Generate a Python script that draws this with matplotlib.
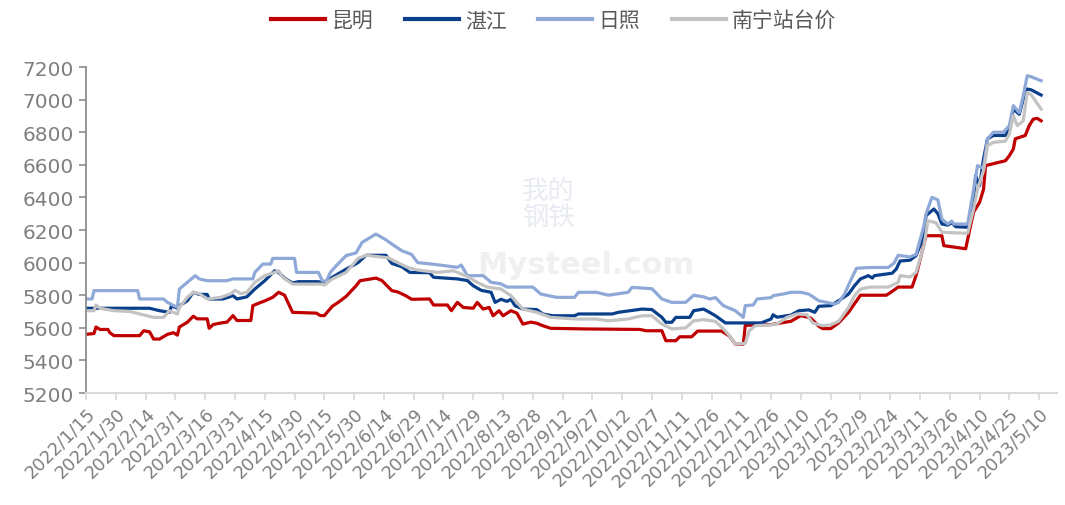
import matplotlib
matplotlib.use("Agg")
import matplotlib.pyplot as plt
import pandas as pd

plt.rcParams['font.family'] = ['Noto Sans CJK SC', 'DejaVu Sans']

START = pd.Timestamp("2022-01-15")

# (days since 2022/1/15, price) breakpoints
kunming = [(0,5560),(4,5565),(5,5605),(7,5590),(11,5590),(12,5570),(14,5552),(27,5552),(29,5582),(32,5575),
           (34,5531),(37,5531),(41,5560),(44,5570),(46,5555),(47,5605),(51,5634),(54,5671),(56,5655),(61,5655),
           (62,5597),(64,5620),(68,5630),(71,5635),(74,5675),(76,5645),(83,5645),(84,5736),(88,5756),(90,5765),
           (94,5787),(97,5818),(100,5800),(104,5695),(116,5690),(118,5675),(120,5675),(124,5732),(127,5756),
           (131,5793),(136,5858),(138,5889),(146,5905),(149,5890),(154,5828),(157,5820),(161,5797),(164,5775),
           (173,5777),(175,5740),(182,5740),(184,5705),(187,5756),(190,5725),(195,5720),(197,5756),(200,5715),
           (203,5725),(205,5674),(208,5705),(210,5674),(214,5705),(217,5690),(220,5623),(224,5635),(227,5628),
           (230,5613),(234,5597),(252,5593),(279,5590),(282,5582),(290,5582),(292,5521),(297,5521),(299,5545),
           (305,5545),(308,5580),(320,5580),(324,5550),(327,5500),(331,5500),(332,5615),(345,5620),(355,5640),
           (360,5675),(365,5660),(369,5610),(371,5595),(375,5595),(379,5630),(384,5695),(388,5765),(390,5800),
           (403,5800),(405,5815),(409,5850),(416,5850),(418,5920),(421,6064),(423,6165),(431,6165),(432,6104),
           (443,6085),(445,6200),(447,6310),(450,6370),(452,6450),(453,6595),(463,6625),(465,6656),(467,6697),
           (468,6760),(473,6780),(475,6840),(477,6880),(479,6885),(481,6870)]

zhanjiang = [(0,5720),(32,5720),(37,5705),(42,5695),(43,5735),(46,5720),(47,5735),(51,5766),(54,5818),
             (57,5805),(61,5805),(62,5777),(69,5777),(74,5797),(76,5777),(81,5790),(85,5838),(90,5889),
             (95,5950),(97,5940),(100,5904),(104,5875),(107,5883),(117,5883),(120,5875),(124,5910),(131,5960),
             (137,6000),(141,6045),(151,6045),(154,5995),(159,5975),(163,5940),(173,5938),(175,5910),(187,5900),
             (192,5890),(195,5858),(199,5830),(204,5818),(206,5756),(209,5775),(212,5762),(214,5775),(216,5736),
             (220,5715),(227,5712),(230,5685),(235,5674),(246,5674),(248,5685),(265,5685),(268,5695),(280,5715),
             (285,5712),(290,5664),(292,5634),(295,5634),(297,5664),(304,5664),(306,5705),(311,5715),(314,5695),
             (317,5674),(322,5630),(340,5630),(345,5654),(346,5680),(348,5665),(355,5678),(359,5705),(364,5710),
             (367,5695),(369,5732),(375,5736),(379,5766),(384,5807),(387,5858),(390,5900),(394,5920),(396,5905),
             (397,5920),(406,5935),(408,5960),(410,6010),(415,6015),(418,6043),(422,6165),(423,6288),(427,6329),
             (429,6300),(431,6237),(434,6230),(436,6245),(438,6220),(444,6217),(447,6390),(448,6533),(450,6472),
             (452,6636),(454,6760),(457,6780),(463,6780),(465,6820),(467,6942),(470,6910),(472,7003),(474,7065),
             (476,7060),(481,7028)]

rizhao = [(0,5777),(3,5777),(4,5828),(26,5828),(27,5777),(39,5777),(41,5756),(46,5725),(47,5838),(51,5879),
          (55,5920),(57,5900),(61,5889),(71,5889),(74,5900),(84,5900),(85,5940),(89,5991),(93,5991),(94,6026),
          (105,6026),(106,5940),(117,5940),(119,5889),(121,5885),(123,5940),(126,5981),(131,6043),(136,6060),
          (139,6124),(146,6175),(151,6140),(154,6114),(159,6073),(164,6050),(167,6000),(175,5990),(187,5971),
          (189,5985),(192,5920),(200,5920),(204,5879),(209,5870),(212,5850),(225,5850),(229,5807),(237,5787),
          (246,5787),(248,5818),(257,5818),(263,5800),(273,5818),(275,5848),(285,5840),(290,5777),(295,5756),
          (302,5756),(306,5800),(311,5790),(314,5777),(317,5785),(321,5736),(327,5705),(331,5664),(332,5736),
          (336,5740),(338,5777),(345,5785),(346,5797),(351,5807),(355,5818),(360,5818),(364,5807),(369,5766),
          (377,5746),(379,5756),(382,5807),(385,5889),(388,5965),(394,5970),(404,5970),(407,5998),(409,6045),
          (415,6035),(418,6050),(422,6227),(423,6298),(426,6400),(429,6385),(431,6267),(434,6237),(436,6255),
          (437,6237),(444,6237),(447,6451),(449,6595),(452,6580),(454,6760),(457,6800),(462,6800),(465,6840),
          (467,6963),(470,6920),(472,7024),(474,7147),(476,7140),(481,7116)]

nanning = [(0,5705),(4,5705),(5,5740),(7,5720),(14,5705),(22,5700),(27,5685),(34,5664),(39,5664),(42,5705),
           (46,5685),(47,5725),(51,5787),(54,5818),(57,5810),(61,5777),(68,5787),(73,5810),(75,5830),(78,5810),
           (81,5818),(85,5879),(90,5920),(95,5940),(97,5950),(99,5910),(104,5868),(119,5868),(120,5862),
           (124,5900),(131,5940),(137,6026),(141,6045),(152,6030),(157,6000),(162,5970),(167,5955),(170,5950),
           (177,5940),(185,5950),(192,5915),(197,5879),(202,5850),(209,5838),(214,5797),(217,5756),(220,5715),
           (227,5695),(234,5664),(247,5654),(257,5654),(263,5643),(273,5654),(280,5674),(285,5674),(290,5623),
           (295,5593),(302,5600),(306,5643),(311,5650),(317,5640),(321,5593),(324,5552),(327,5500),(332,5505),
           (334,5582),(337,5613),(345,5618),(348,5625),(353,5664),(358,5685),(363,5680),(366,5630),(371,5613),
           (375,5618),(379,5640),(384,5725),(387,5797),(390,5838),(395,5850),(404,5850),(409,5879),(410,5920),
           (415,5912),(418,5940),(422,6104),(424,6257),(428,6245),(431,6186),(444,6180),(447,6329),(449,6451),
           (452,6564),(454,6718),(457,6738),(463,6745),(465,6789),(467,6901),(469,6840),(472,6870),(474,7044),
           (476,7030),(481,6942)]

series_names = ["昆明", "湛江", "日照", "南宁站台价"]
series_data = [kunming, zhanjiang, rizhao, nanning]
colors = ["#C00000", "#0A3F8C", "#8EA9D8", "#C3C3C3"]

y_ticks = list(range(5200, 7201, 200))
tick_step_days = 15
n_ticks = 33

fig = plt.figure(figsize=(10.65, 5.06), dpi=100)
ax = fig.add_axes([0.0808, 0.2213, 0.9117, 0.6443])

for name, data, c in zip(series_names, series_data, colors):
    d = [START + pd.Timedelta(days=k) for k, _ in data]
    v = [p for _, p in data]
    ax.plot(d, v, color=c, lw=2.3, label=name, solid_joinstyle='round')

tick_dates = [START + pd.Timedelta(days=tick_step_days * i) for i in range(n_ticks)]
ax.set_xticks(tick_dates)
ax.set_xticklabels([f"{t.year}/{t.month}/{t.day}" for t in tick_dates], rotation=45,
                   ha='right', va='top', rotation_mode='anchor', fontsize=12.8, color='#7F7F7F',
                   family=['DejaVu Sans'])
ax.set_xlim(START, START + pd.Timedelta(days=489))
ax.set_ylim(5200, 7200)
ax.set_yticks(y_ticks)
ax.set_yticklabels([str(v) for v in y_ticks], fontsize=14.5, color='#7F7F7F', family=['DejaVu Sans'])

for s in ['top', 'right']:
    ax.spines[s].set_visible(False)
ax.spines['left'].set_color('#8C8C8C')
ax.spines['left'].set_linewidth(1.3)
ax.spines['bottom'].set_color('#D9D9D9')
ax.spines['bottom'].set_linewidth(1.5)
ax.tick_params(axis='y', direction='out', length=5, width=1.2, color='#8C8C8C', pad=4)
ax.tick_params(axis='x', direction='out', length=5, width=1.2, color='#D9D9D9', pad=3)

# faint watermark
fig.text(0.515, 0.595, "我的\n钢铁", fontsize=19, color='#E8EBF2', ha='center', va='center',
         linespacing=1.0, zorder=0)
fig.text(0.55, 0.475, "Mysteel.com", fontsize=22, color='#F0F0F0', ha='center', va='center',
         fontweight='bold', family=['DejaVu Sans'], zorder=0)

leg = fig.legend(loc='center', bbox_to_anchor=(0.52, 0.958), ncol=4, frameon=False,
                 fontsize=15, handlelength=2.6, columnspacing=1.5, handletextpad=0.3)
for t in leg.get_texts():
    t.set_color('#595959')
for l in leg.get_lines():
    l.set_linewidth(3)

fig.savefig("out.png", dpi=100)
